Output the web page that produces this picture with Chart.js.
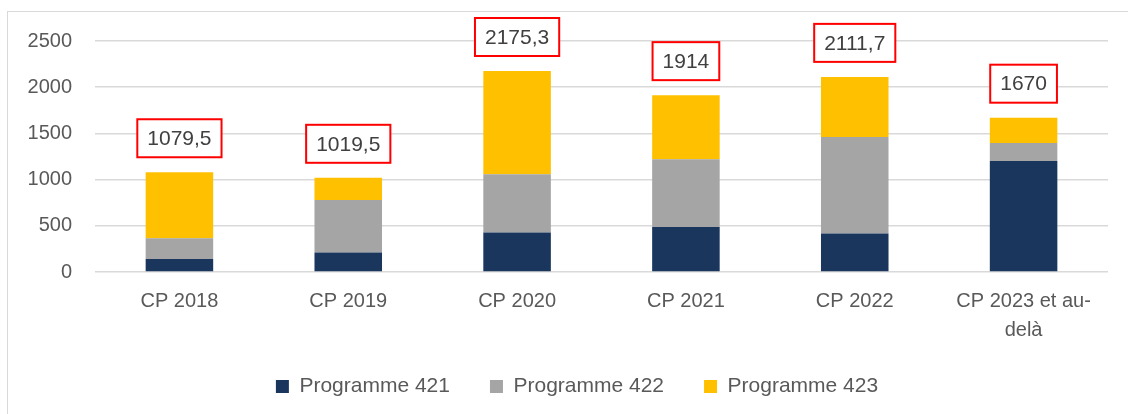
<!DOCTYPE html>
<html lang="fr">
<head>
  <meta charset="UTF-8">
  <title>CP par programme</title>
  <script src="https://cdn.jsdelivr.net/npm/chart.js"></script>
  <style>
    body { margin: 0; background: #fff; }
    #wrap { position: relative; width: 1128px; height: 414px; overflow: hidden; }
    #frame { position: absolute; left: 7px; top: 11px; width: 1140px; height: 420px; border: 1px solid #d9d9d9; box-sizing: border-box; }
    canvas { position: absolute; left: 0; top: 0; }
  </style>
</head>
<body>
  <div id="wrap">
    <div id="frame"></div>
    <canvas id="chart" width="1128" height="414"></canvas>
  </div>

  <script>
    // values
    const categories = ['CP 2018', 'CP 2019', 'CP 2020', 'CP 2021', 'CP 2022', ['CP 2023 et au-', 'delà']];
    const prog421 = [140, 210, 427, 486, 416, 1200];
    const prog422 = [226, 570, 631, 735, 1044, 195];
    const prog423 = [713.5, 239.5, 1117.3, 693, 651.7, 275];
    const totalLabels = ['1079,5', '1019,5', '2175,3', '1914', '2111,7', '1670'];
    const yTicks = [0, 500, 1000, 1500, 2000, 2500];

    const FONT = "'Liberation Sans', Arial, sans-serif";

    // red boxed totals above each stack
    const totalsPlugin = {
      id: 'totals',
      afterLayout(chart) {
        // legend sits a bit right of centre in the original
        chart.legend.left += 46;
      },
      afterDatasetsDraw(chart) {
        const ctx = chart.ctx;
        const x = chart.scales.x, y = chart.scales.y;
        ctx.save();
        ctx.font = '21px ' + FONT;
        ctx.textAlign = 'center';
        ctx.textBaseline = 'middle';
        categories.forEach((c, i) => {
          const total = prog421[i] + prog422[i] + prog423[i];
          const cx = x.getPixelForValue(i);
          const top = y.getPixelForValue(total);
          const w = ctx.measureText(totalLabels[i]).width + 20;
          const h = 38;
          const by = top - 15 - h;
          ctx.fillStyle = '#fff';
          ctx.fillRect(cx - w / 2, by, w, h);
          ctx.strokeStyle = '#ff0000';
          ctx.lineWidth = 2;
          ctx.strokeRect(cx - w / 2, by, w, h);
          ctx.fillStyle = '#404040';
          ctx.fillText(totalLabels[i], cx, by + h / 2 + 1);
        });
        ctx.restore();
      }
    };

    new Chart(document.getElementById('chart'), {
      type: 'bar',
      data: {
        labels: categories,
        datasets: [
          { label: 'Programme 421', data: prog421, backgroundColor: '#1a365d' },
          { label: 'Programme 422', data: prog422, backgroundColor: '#a5a5a5' },
          { label: 'Programme 423', data: prog423, backgroundColor: '#ffc000' }
        ]
      },
      options: {
        responsive: false,
        animation: false,
        categoryPercentage: 1,
        barPercentage: 0.4,
        layout: { padding: { top: 41, right: 20, bottom: 7, left: 0 } },
        plugins: {
          tooltip: { enabled: false },
          legend: {
            position: 'bottom',
            labels: {
              font: { family: FONT, size: 21 },
              color: '#595959',
              boxWidth: 13,
              boxHeight: 13,
              padding: 40
            }
          }
        },
        scales: {
          x: {
            stacked: true,
            grid: { display: false },
            border: { display: false },
            ticks: {
              font: { family: FONT, size: 20, lineHeight: 1.45 },
              color: '#595959',
              padding: 7,
              maxRotation: 0
            },
            afterFit(scale) { scale.height = 64; }
          },
          y: {
            stacked: true,
            min: 0,
            max: 2500,
            afterBuildTicks(scale) { scale.ticks = yTicks.map(v => ({ value: v })); },
            grid: { color: '#d9d9d9', lineWidth: 1.5, drawTicks: false },
            border: { display: false },
            ticks: {
              font: { family: FONT, size: 20 },
              color: '#595959',
              padding: 23,
              callback: v => String(v)
            },
            afterFit(scale) { scale.width = 95; }
          }
        }
      },
      plugins: [totalsPlugin]
    });
  </script>
</body>
</html>
